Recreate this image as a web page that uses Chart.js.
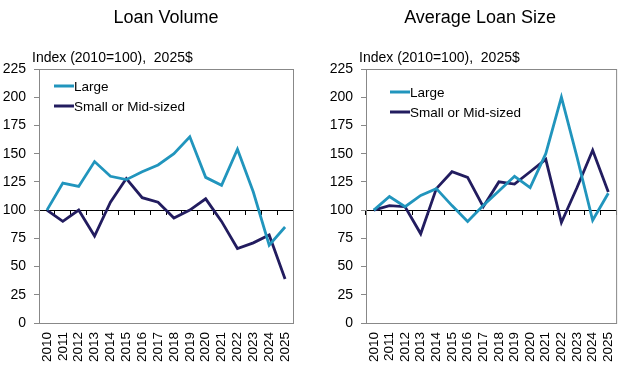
<!DOCTYPE html>
<html>
<head>
<meta charset="utf-8">
<script src="https://cdn.jsdelivr.net/npm/chart.js@4"></script>
<style>
  body { margin: 0; background: #fff; }
  .panel { position: absolute; top: 0; height: 385px; }
</style>
</head>
<body>
<div class="panel" style="left:0;width:317px"><canvas id="volume"></canvas></div>
<div class="panel" style="left:317px;width:317px"><canvas id="size"></canvas></div>
<script>
const years = ['2010','2011','2012','2013','2014','2015','2016','2017','2018','2019','2020','2021','2022','2023','2024','2025'];
const seriesNames = ['Large', 'Small or Mid-sized'];
const volumeLarge = [100, 124, 121, 143, 130, 127, 134, 140, 150, 165, 129, 122, 154, 116, 69, 85];
const volumeSmall = [100, 90, 100, 77, 107, 128, 111, 107, 93, 100, 110, 90, 66, 71, 78, 39];
const sizeLarge = [100, 112, 103, 113, 119, 104, 90, 104, 117, 130, 120, 150, 200, 147, 91, 115];
const sizeSmall = [100, 104, 103, 79, 119, 134, 129, 103, 125, 123, 134, 145, 89, 120, 153, 116];
const yTicks = {min: 0, max: 225, step: 25};

const colLarge = '#2195bd';
const colSmall = '#221c5f';
const font = 'Liberation Sans, Arial, sans-serif';

// titel, podnaslov in box okrog grafa
const panelText = {
  id: 'panelText',
  beforeDatasetsDraw(chart, args, o) {
    const {ctx, chartArea: a} = chart;
    ctx.save();
    ctx.strokeStyle = '#888';
    ctx.lineWidth = 1;
    ctx.strokeRect(a.left + 0.5, a.top + 0.5, a.width, a.height);
    ctx.restore();
  },
  afterDraw(chart, args, o) {
    const {ctx, chartArea: a} = chart;
    ctx.save();
    ctx.fillStyle = '#000';
    ctx.textBaseline = 'alphabetic';
    ctx.font = '18px ' + font;
    ctx.textAlign = 'center';
    ctx.fillText(o.title, (a.left + a.right) / 2 + o.titleShift, 23);
    ctx.font = '14px ' + font;
    ctx.textAlign = 'left';
    ctx.fillText(o.sub, a.left - o.subShift, 62);
    // legenda v grafu
    ctx.font = '13.5px ' + font;
    ctx.textBaseline = 'middle';
    chart.data.datasets.forEach((ds, i) => {
      const y = a.top + o.legY + i * 20;
      const x = a.left + o.legX;
      ctx.strokeStyle = ds.borderColor;
      ctx.lineWidth = 3;
      ctx.beginPath();
      ctx.moveTo(x, y);
      ctx.lineTo(x + 20, y);
      ctx.stroke();
      ctx.fillText(ds.label, x + 20, y + 1);
    });
    ctx.restore();
  }
};

function narisi(id, large, small, txt, yWidth, padRight) {
  new Chart(document.getElementById(id), {
    type: 'line',
    data: {
      labels: years,
      datasets: [
        {label: seriesNames[0], data: large, borderColor: colLarge, borderWidth: 2.8, pointRadius: 0, tension: 0, xAxisID: 'x'},
        {label: seriesNames[1], data: small, borderColor: colSmall, borderWidth: 2.8, pointRadius: 0, tension: 0, xAxisID: 'x'}
      ]
    },
    options: {
      responsive: true,
      maintainAspectRatio: false,
      animation: false,
      layout: {padding: {top: 69, right: padRight, bottom: 0, left: 0}},
      plugins: {legend: {display: false}, tooltip: {enabled: false}, panelText: txt},
      scales: {
        x: {
          type: 'category', position: 'bottom', offset: true,
          grid: {display: false, drawTicks: false},
          border: {display: false},
          ticks: {minRotation: 90, maxRotation: 90, autoSkip: false, padding: 9, color: '#000', font: {family: font, size: 13.5}},
          afterFit: s => { s.height = 62; }
        },
        // os pri 100 s kratkimi oznakami
        x2: {
          type: 'category', axis: 'x', position: {y: 100}, offset: true, labels: years,
          grid: {offset: true, drawOnChartArea: false, drawTicks: true, tickLength: 4, color: '#000'},
          border: {display: true, color: '#000', width: 1},
          ticks: {display: false},
          afterFit: s => { s.height = 0; }
        },
        y: {
          min: yTicks.min, max: yTicks.max,
          grid: {drawOnChartArea: false, drawTicks: true, tickLength: 5, color: '#888'},
          border: {display: false},
          ticks: {stepSize: yTicks.step, padding: 8, color: '#000', font: {family: font, size: 14}},
          afterFit: s => { s.width = yWidth; }
        }
      }
    },
    plugins: [panelText]
  });
}

narisi('volume', volumeLarge, volumeSmall,
  {title: 'Loan Volume', titleShift: 0, sub: 'Index (2010=100),  2025$', subShift: 7, legX: 15, legY: 17}, 39, 24);
narisi('size', sizeLarge, sizeSmall,
  {title: 'Average Loan Size', titleShift: -11, sub: 'Index (2010=100),  2025$', subShift: 7, legX: 24, legY: 23}, 49, 16);
</script>
</body>
</html>
